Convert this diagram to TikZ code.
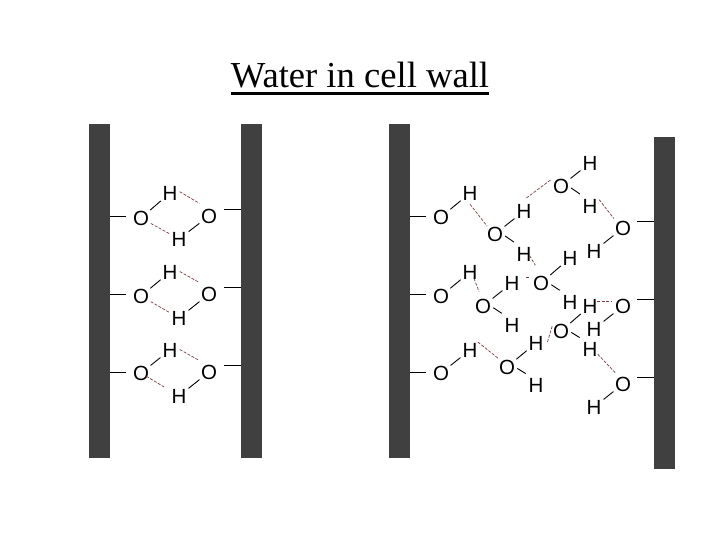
\documentclass[tikz,border=0pt]{standalone}
\usepackage{fontspec}
\setmainfont{Liberation Serif}
\setsansfont{Liberation Sans}
\definecolor{wallgray}{RGB}{64, 64, 64}
\definecolor{hbond}{RGB}{125, 60, 60}
\tikzset{
  atom/.style={circle, minimum size=22pt, inner sep=0pt, font=\sffamily\fontsize{20.5}{20.5}\selectfont},
  wall/.style={rectangle, fill=wallgray, draw=none, minimum width=21pt, inner sep=0pt},
  bond/.style={line width=0.9pt, shorten <=1pt, shorten >=1pt},
  stub/.style={line width=0.9pt},
  hb/.style={line width=0.7pt, hbond, dash pattern=on 3pt off 1.5pt},
  lift/.style={transform canvas={yshift=#1}}
}
\begin{document}
\begin{tikzpicture}[x=1pt, y=-1pt]
\useasboundingbox (0, 0) rectangle (720, 540);

\node[inner sep=0pt, font=\fontsize{36.6}{36.6}\selectfont, anchor=base] (title) at (360, 88) {Water in cell wall};
\draw[line width=2.2pt] ([yshift=-5.5pt]title.base west) -- ([yshift=-5.5pt]title.base east);

\node[wall, minimum height=334pt] (wall1) at (99.5, 291) {};
\node[wall, minimum height=334pt] (wall2) at (251.5, 291) {};
\node[wall, minimum height=334pt] (wall3) at (399.5, 291) {};
\node[wall, minimum height=332pt] (wall4) at (664.5, 303) {};

% left pair of walls
\node[atom] (o1) at (141, 218) {O};
\node[atom] (h1) at (170, 193) {H};
\node[atom] (o2) at (209, 216) {O};
\node[atom] (h2) at (179, 239) {H};
\node[atom] (o3) at (141, 296) {O};
\node[atom] (h3) at (170, 272) {H};
\node[atom] (o4) at (209, 294) {O};
\node[atom] (h4) at (179, 318) {H};
\node[atom] (o5) at (141, 373) {O};
\node[atom] (h5) at (170, 350) {H};
\node[atom] (o6) at (209, 372) {O};
\node[atom] (h6) at (179, 396) {H};

\coordinate (s1) at (126, 216);
\coordinate (s2) at (224, 209);
\coordinate (s3) at (126, 294);
\coordinate (s4) at (224, 287);
\coordinate (s5) at (126, 372);
\coordinate (s6) at (224, 365);

\draw[stub] (s1) -- (s1 -| wall1.east);
\draw[stub] (s3) -- (s3 -| wall1.east);
\draw[stub] (s5) -- (s5 -| wall1.east);
\draw[stub] (s2) -- (s2 -| wall2.west);
\draw[stub] (s4) -- (s4 -| wall2.west);
\draw[stub] (s6) -- (s6 -| wall2.west);

\draw[bond] (o1) -- (h1);
\draw[bond] (o2) -- (h2);
\draw[bond] (o3) -- (h3);
\draw[bond] (o4) -- (h4);
\draw[bond] (o5) -- (h5);
\draw[bond] (o6) -- (h6);
\draw[hb, lift=7pt] (h1) -- (o2);
\draw[hb] (o1) -- (h2);
\draw[hb, lift=6pt] (h3) -- (o4);
\draw[hb] (o3) -- (h4);
\draw[hb, lift=6pt] (h5) -- (o6);
\draw[hb, shorten <=-5pt, shorten >=5pt] (o5) -- (h6);

% right pair of walls
\node[atom] (p1) at (441, 217) {O};
\node[atom] (q1) at (470, 193) {H};
\node[atom] (p2) at (441, 296) {O};
\node[atom] (q2) at (470, 272) {H};
\node[atom] (p3) at (441, 373) {O};
\node[atom] (q3) at (470, 350) {H};

\node[atom] (p4) at (495, 234) {O};
\node[atom] (q4) at (524, 211) {H};
\node[atom] (q5) at (524, 254) {H};
\node[atom] (p5) at (561, 186) {O};
\node[atom] (q6) at (590, 163) {H};
\node[atom] (q7) at (590, 206) {H};
\node[atom] (p6) at (623, 228) {O};
\node[atom] (q8) at (594, 251) {H};

\node[atom] (p7) at (483, 306) {O};
\node[atom] (q9) at (512, 283) {H};
\node[atom] (q10) at (512, 325) {H};
\node[atom] (p8) at (541, 283) {O};
\node[atom] (q11) at (570, 258) {H};
\node[atom] (q12) at (570, 302) {H};

\node[atom] (p9) at (507, 367) {O};
\node[atom] (q13) at (536, 343) {H};
\node[atom] (q14) at (536, 385) {H};
\node[atom] (p10) at (561, 331) {O};
\node[atom] (q15) at (590, 306) {H};
\node[atom] (q16) at (590, 349) {H};
\node[atom] (p11) at (623, 306) {O};
\node[atom] (q17) at (594, 329) {H};
\node[atom] (p12) at (623, 384) {O};
\node[atom] (q18) at (594, 407) {H};

\coordinate (s7) at (426, 216);
\coordinate (s8) at (426, 294);
\coordinate (s9) at (426, 372);
\coordinate (s10) at (637, 221);
\coordinate (s11) at (637, 299);
\coordinate (s12) at (637, 377);

\draw[stub] (s7) -- (s7 -| wall3.east);
\draw[stub] (s8) -- (s8 -| wall3.east);
\draw[stub] (s9) -- (s9 -| wall3.east);
\draw[stub] (s10) -- (s10 -| wall4.west);
\draw[stub] (s11) -- (s11 -| wall4.west);
\draw[stub] (s12) -- (s12 -| wall4.west);

\draw[bond] (p1) -- (q1);
\draw[bond] (p2) -- (q2);
\draw[bond] (p3) -- (q3);
\draw[bond] (p4) -- (q4);
\draw[bond, lift=5pt] (p4) -- (q5);
\draw[bond] (p5) -- (q6);
\draw[bond, lift=5pt] (p5) -- (q7);
\draw[bond] (p6) -- (q8);
\draw[bond] (p7) -- (q9);
\draw[bond, lift=5pt] (p7) -- (q10);
\draw[bond] (p8) -- (q11);
\draw[bond, lift=5pt] (p8) -- (q12);
\draw[bond] (p9) -- (q13);
\draw[bond, lift=5pt] (p9) -- (q14);
\draw[bond] (p10) -- (q15);
\draw[bond, lift=5pt] (p10) -- (q16);
\draw[bond] (p11) -- (q17);
\draw[bond] (p12) -- (q18);

\draw[hb] (q1.south) -- (p4.north west);
\draw[hb, shorten <=3pt, shorten >=3pt] (q4.north) -- (p5.north west);
\draw[hb, shorten <=2pt, shorten >=2pt] (q7.north east) -- (p6.north west);
\draw[hb, lift=8pt] (q5) -- (p8);
\draw[hb, lift=4pt] (q2) -- (p7);
\draw[hb, lift=6pt, shorten <=3pt] (q9) -- (p8);
\draw[hb] (q3.north east) -- (p9.north west);
\draw[hb, shorten <=1pt, shorten >=3pt] (q13.east) -- (p10.north west);
\draw[hb, lift=5pt, shorten <=-4pt] (q15) -- (p11);
\draw[hb, lift=3pt] (q16) -- (p12);

\end{tikzpicture}
\end{document}
